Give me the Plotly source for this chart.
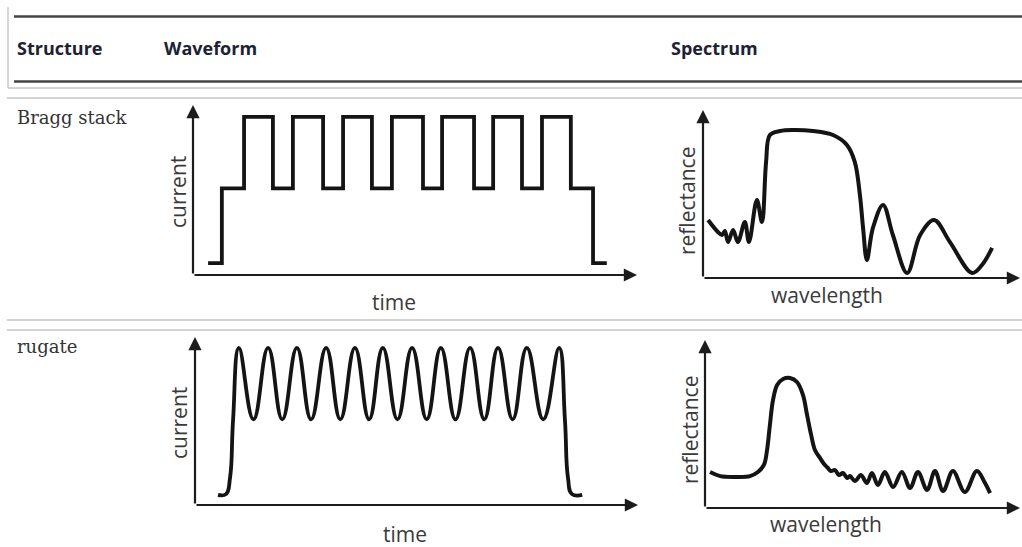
import plotly.graph_objects as go

W, H = 1022, 547

# ---------------- data ----------------
header_labels = ["Structure", "Waveform", "Spectrum"]
row_labels = ["Bragg stack", "rugate"]

# Bragg stack waveform: stepped current vs time (value holds until next time)
bragg_time = [3.4, 6.5, 11.5, 18.0, 22.5, 29.3, 33.8, 40.3, 44.8, 51.8,
              56.1, 63.3, 67.6, 74.1, 78.6, 85.1, 90.1, 93.2]
bragg_current = [0.7, 5.1, 9.3, 5.1, 9.3, 5.1, 9.3, 5.1, 9.3, 5.1,
                 9.3, 5.1, 9.3, 5.1, 9.3, 5.1, 0.7, 0.7]

# Bragg stack reflectance spectrum
bragg_wavelength = [1.6, 4.7, 6.0, 6.9, 7.9, 9.5, 11.0, 13.2, 14.5, 17.0,
                    18.6, 19.9, 21.1, 24.3, 28.4, 34.7, 41.0, 45.4, 47.9, 49.5,
                    50.5, 51.7, 53.6, 56.8, 59.9, 64.4, 68.5, 72.9, 77.9, 84.9,
                    88.0, 91.2]
bragg_reflectance = [3.45, 2.74, 2.56, 2.80, 2.14, 2.86, 2.14, 3.33, 2.14, 4.64,
                     3.33, 6.90, 8.51, 8.75, 8.81, 8.75, 8.51, 7.92, 6.90, 4.94,
                     2.98, 1.07, 2.98, 4.35, 2.56, 0.30, 2.56, 3.45, 2.14, 0.30,
                     0.77, 1.79]

# Rugate waveform: smoothly modulated current vs time
rugate_time = [5.2, 7.0, 7.9, 8.6, 9.9, 13.2, 16.5, 19.7, 23.0, 26.2,
               29.6, 32.8, 36.1, 39.3, 42.4, 45.7, 49.0, 52.3, 55.5, 58.8,
               62.1, 65.3, 68.4, 71.7, 74.9, 78.6, 82.2, 83.5, 84.2, 85.1,
               87.4]
rugate_current = [0.6, 0.65, 1.6, 5.1, 9.35, 5.1, 9.35, 5.1, 9.35, 5.1,
                  9.35, 5.1, 9.35, 5.1, 9.35, 5.1, 9.35, 5.1, 9.35, 5.1,
                  9.35, 5.1, 9.35, 5.1, 9.35, 5.1, 9.35, 5.1, 1.6, 0.65,
                  0.6]

# Rugate reflectance spectrum
rugate_wavelength = [1.6, 4.8, 10.2, 14.3, 16.8, 18.7, 19.7, 20.6, 21.6, 22.9,
                     24.8, 27.0, 29.2, 31.1, 32.4, 33.7, 34.9, 36.5, 37.8, 39.0,
                     40.0, 41.3, 42.5, 43.8, 45.1, 46.0, 47.6, 49.5, 51.4, 53.0,
                     54.9, 57.1, 59.7, 62.5, 65.1, 67.6, 70.5, 73.0, 75.6, 78.7,
                     82.5, 86.3, 88.9, 90.5]
rugate_reflectance = [2.14, 1.90, 1.85, 1.90, 2.14, 2.56, 3.45, 4.94, 6.43, 7.32,
                      7.68, 7.74, 7.50, 6.73, 5.54, 4.35, 3.45, 2.98, 2.62, 2.38,
                      2.20, 2.26, 1.96, 2.08, 1.79, 1.90, 1.61, 1.96, 1.49, 2.08,
                      1.37, 2.14, 1.25, 2.14, 1.19, 2.14, 1.07, 2.20, 1.01, 2.20,
                      0.95, 2.20, 1.49, 0.89]

# ---------------- layout helpers ----------------
def px(x):
    return x / W


def py(y):
    return 1 - y / H


INK = "#141414"
AXIS = "#1c1c1c"
LABEL_FONT = dict(family="Open Sans", size=21, color="#3a3a3a")

# panel boxes in pixels: (left, right, bottom, top) of the axis frame
panels = {
    "bragg_wave": (193, 637, 275, 105),
    "bragg_spec": (703, 1020, 278, 110),
    "rugate_wave": (195, 638, 505, 337),
    "rugate_spec": (705, 1020, 508, 340),
}
XMAX, YMAX = 100, 10

fig = go.Figure()
axis_names = ["", "2", "3", "4"]
layout_axes = {}
for name, (key, (l, r, b, t)) in zip(axis_names, panels.items()):
    common = dict(visible=False, showgrid=False, zeroline=False, fixedrange=True)
    layout_axes["xaxis" + name] = dict(domain=[px(l), px(r)], range=[0, XMAX],
                                       anchor="y" + name, **common)
    layout_axes["yaxis" + name] = dict(domain=[py(b), py(t)], range=[0, YMAX],
                                       anchor="x" + name, **common)

fig.add_trace(go.Scatter(x=bragg_time, y=bragg_current, mode="lines",
                         line=dict(shape="hv", color=INK, width=3.8),
                         xaxis="x", yaxis="y", hoverinfo="skip"))
fig.add_trace(go.Scatter(x=bragg_wavelength, y=bragg_reflectance, mode="lines",
                         line=dict(shape="spline", smoothing=1.0, color=INK, width=4),
                         xaxis="x2", yaxis="y2", hoverinfo="skip"))
fig.add_trace(go.Scatter(x=rugate_time, y=rugate_current, mode="lines",
                         line=dict(shape="spline", smoothing=1.3, color=INK, width=3.8),
                         xaxis="x3", yaxis="y3", hoverinfo="skip"))
fig.add_trace(go.Scatter(x=rugate_wavelength, y=rugate_reflectance, mode="lines",
                         line=dict(shape="spline", smoothing=1.0, color=INK, width=4),
                         xaxis="x4", yaxis="y4", hoverinfo="skip"))

annotations = []

# arrowed axes for each panel
for name in axis_names:
    xr, yr = "x" + name, "y" + name
    for tip in [(XMAX, 0), (0, YMAX)]:
        annotations.append(dict(
            x=tip[0], y=tip[1], ax=0, ay=0, xref=xr, yref=yr, axref=xr, ayref=yr,
            text="", showarrow=True, arrowhead=2, arrowsize=1.2, arrowwidth=2.2,
            arrowcolor=AXIS))

# axis captions
captions = [
    ("current", 178, 192, -90), ("time", 394, 302, 0),
    ("reflectance", 687, 201, -90), ("wavelength", 827, 295, 0),
    ("current", 179, 423, -90), ("time", 405, 534, 0),
    ("reflectance", 690, 430, -90), ("wavelength", 826, 524, 0),
]
for text, x, y, ang in captions:
    annotations.append(dict(x=px(x), y=py(y), xref="paper", yref="paper",
                            text=text, showarrow=False, textangle=ang,
                            xanchor="center", yanchor="middle", font=LABEL_FONT))

# column headers
for text, x in zip(header_labels, [15, 162, 669]):
    annotations.append(dict(x=px(x), y=py(48), xref="paper", yref="paper",
                            text="<b>" + text + "</b>", showarrow=False,
                            xanchor="left", yanchor="middle",
                            font=dict(family="Open Sans", size=18, color="#1d2232")))

# row labels
for text, y in zip(row_labels, [117, 346]):
    annotations.append(dict(x=px(15), y=py(y), xref="paper", yref="paper",
                            text=text, showarrow=False, xanchor="left",
                            yanchor="middle",
                            font=dict(family="DejaVu Serif", size=18, color="#333333")))

# table rules
shapes = []
for y in [16.5, 81.5]:
    shapes.append(dict(type="line", xref="paper", yref="paper",
                       x0=px(14), x1=1, y0=py(y), y1=py(y),
                       line=dict(color="#454545", width=2.6)))
shapes.append(dict(type="line", xref="paper", yref="paper",
                   x0=px(8), x1=1, y0=py(88), y1=py(88),
                   line=dict(color="#c4c4c4", width=1.4)))
shapes.append(dict(type="line", xref="paper", yref="paper",
                   x0=px(8), x1=px(8), y0=py(7), y1=py(88),
                   line=dict(color="#c4c4c4", width=1.4)))
for y in [98, 320, 330]:
    shapes.append(dict(type="line", xref="paper", yref="paper",
                       x0=px(7), x1=1, y0=py(y), y1=py(y),
                       line=dict(color="#c4c4c4", width=1.4)))

fig.update_layout(
    width=W, height=H,
    margin=dict(l=0, r=0, t=0, b=0),
    paper_bgcolor="white", plot_bgcolor="rgba(0,0,0,0)",
    showlegend=False,
    annotations=annotations, shapes=shapes,
    **layout_axes,
)

fig.write_html("out.html", config={"displayModeBar": False})
